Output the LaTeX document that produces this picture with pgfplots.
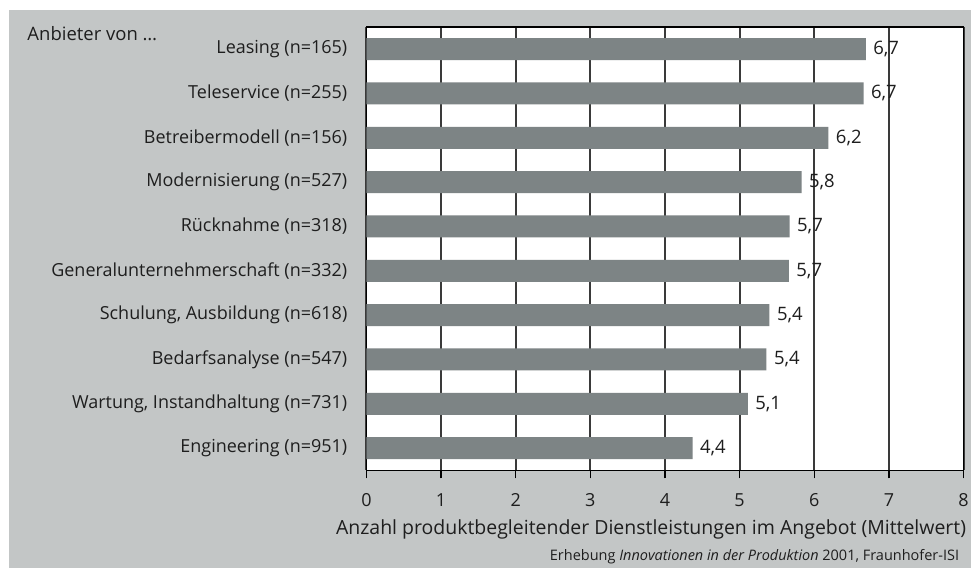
\documentclass[border=0pt]{standalone}
\usepackage{fontspec}
\setmainfont{Open Sans}
\usepackage{pgfplots}
\pgfplotsset{compat=1.18}
\definecolor{bggray}{HTML}{C3C6C6}
\definecolor{bargray}{HTML}{7D8485}
\definecolor{txt}{HTML}{1E1E1E}
\definecolor{gridc}{HTML}{3A3A3A}
\begin{document}
\begin{tikzpicture}[x=1pt,y=1pt]
\fill[white] (0,0) rectangle (972,569);
\fill[bggray] (9,0) rectangle (972,559);
\fill[white] (367,98) rectangle (965,542);
\node[anchor=west, font=\fontsize{18.5}{22}\selectfont, text=txt] at (24,535) {Anbieter von \dots};
\begin{axis}[
    at={(367pt,98pt)}, anchor=south west,
    width=598pt, height=444pt, scale only axis,
    xbar, bar width=22pt,
    xmin=0, xmax=8, ymin=-0.5, ymax=9.5,
    y dir=reverse,
    axis line style={black, line width=1.2pt},
    xtick={0,1,...,8},
    xtick pos=bottom, tick align=outside,
    major tick length=8pt,
    xtick style={black, line width=1.2pt},
    xmajorgrids,
    major grid style={gridc, line width=2pt},
    ytick={0,...,9},
    ytick style={draw=none},
    yticklabels={Leasing (n=165), Teleservice (n=255), Betreibermodell (n=156),
        Modernisierung (n=527), Rücknahme (n=318), Generalunternehmerschaft (n=332),
        {Schulung, Ausbildung (n=618)}, Bedarfsanalyse (n=547),
        {Wartung, Instandhaltung (n=731)}, Engineering (n=951)},
    tick label style={font=\fontsize{18}{21}\selectfont, text=txt},
    yticklabel style={anchor=east, inner sep=0pt, xshift=-11pt},
    xticklabel style={yshift=-12pt},
    /pgf/number format/assume math mode=true,
    nodes near coords,
    point meta=x,
    nodes near coords style={font=\fontsize{18.5}{22}\selectfont, text=txt, anchor=west, xshift=4pt,
        /pgf/number format/.cd, fixed, fixed zerofill, precision=1, use comma},
]
\addplot[fill=bargray, draw=none] coordinates {
    (6.69,0) (6.66,1) (6.19,2) (5.83,3) (5.67,4)
    (5.66,5) (5.40,6) (5.36,7) (5.11,8) (4.37,9)
};
\end{axis}
\node[anchor=east, font=\fontsize{19.5}{23}\selectfont, text=txt] at (971,39)
    {Anzahl produktbegleitender Dienstleistungen im Angebot (Mittelwert)};
\node[anchor=east, font=\fontsize{14.5}{17}\selectfont, text=txt] at (964,11)
    {Erhebung \textit{Innovationen in der Produktion} 2001, Fraunhofer-ISI};
\end{tikzpicture}
\end{document}
